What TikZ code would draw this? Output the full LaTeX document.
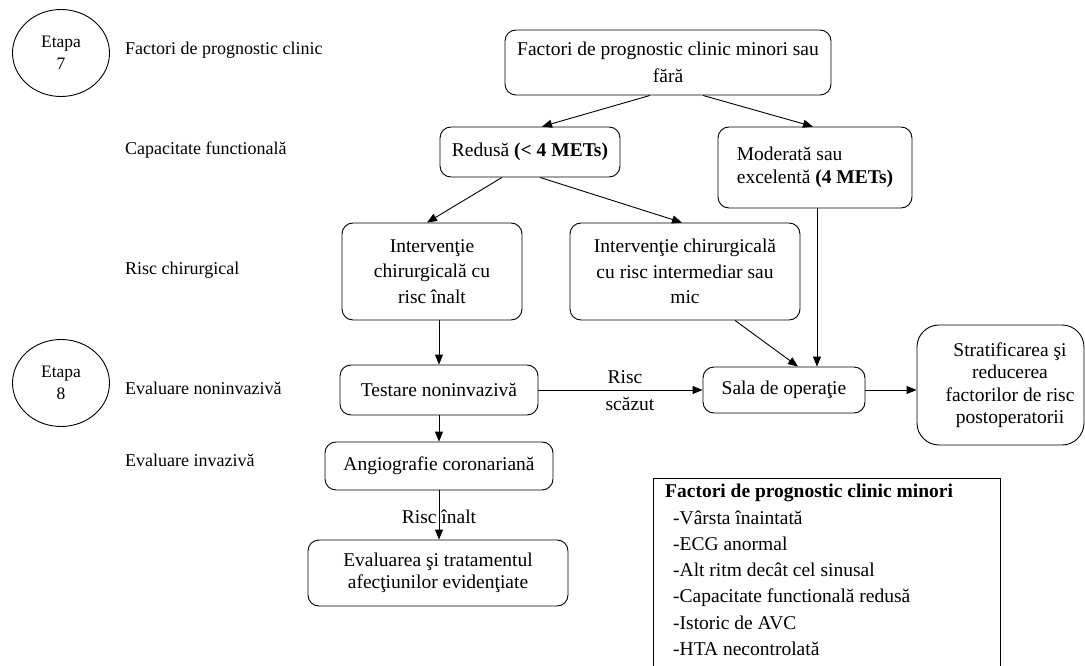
\documentclass[tikz,border=0pt]{standalone}
\usepackage{fontspec}
\setmainfont{Liberation Serif}
\usetikzlibrary{arrows.meta,shapes.geometric}
\begin{document}
\begin{tikzpicture}[x=1pt,y=-1pt,
  bx/.style={draw, rounded corners=11pt, align=center, inner sep=0pt, line width=0.9pt},
  arr/.style={-{Triangle[length=10pt,width=8pt]}, line width=0.9pt},
  lbl/.style={anchor=west, inner sep=0pt, font=\fontsize{18}{22}\selectfont},
  et/.style={draw, ellipse, line width=0.9pt, minimum width=97pt, minimum height=87pt, align=center, inner sep=0pt, font=\fontsize{17.5}{22}\selectfont},
  txt/.style={font=\fontsize{19.5}{25.5}\selectfont},
  txs/.style={font=\fontsize{19.5}{22.5}\selectfont}
]
\useasboundingbox (0,0) rectangle (1085,666);

% stage ellipses and row labels
\node[et] (e7) at (61,53) {Etapa\\7};
\node[et] (e8) at (61,383) {Etapa\\8};
\node[lbl] (l1) at (125,50) {Factori de prognostic clinic};
\node[lbl] (l2) at (125,150) {Capacitate functională};
\node[lbl] (l3) at (125,270) {Risc chirurgical};
\node[lbl] (l4) at (125,388) {Evaluare noninvazivă};
\node[lbl] (l5) at (125,460) {Evaluare invazivă};

% boxes
\node[bx, txt, font=\fontsize{19.5}{27}\selectfont, minimum width=326pt, minimum height=65pt] (top) at (668,62.5) {Factori de prognostic clinic minori sau\\fără};
\node[bx, txt, minimum width=180pt, minimum height=50pt] (red) at (530,152) {Redusă \textbf{(< 4 METs)}};
\node[bx, txs, align=left, minimum width=194pt, minimum height=81pt] (mod) at (815,167.5) {Moderată sau\\excelentă \textbf{(4 METs)}};
\node[bx, txt, minimum width=180pt, minimum height=97pt] (inth) at (432,271.5) {Intervenţie\\chirurgicală cu\\risc înalt};
\node[bx, txt, minimum width=230pt, minimum height=97pt] (intm) at (685,271.5) {Intervenţie chirurgicală\\cu risc intermediar sau\\mic};
\node[bx, txt, minimum width=198pt, minimum height=50pt] (test) at (439,390) {Testare noninvazivă};
\node[bx, txt, minimum width=228pt, minimum height=48pt] (ang) at (439,466) {Angiografie coronariană};
\node[bx, txs, minimum width=260pt, minimum height=66pt] (eval) at (438,573) {Evaluarea şi tratamentul\\afecţiunilor evidenţiate};
\node[bx, txt, minimum width=162pt, minimum height=46pt] (sala) at (784,390) {Sala de operaţie};
\node[bx, rounded corners=22pt, minimum width=167pt, minimum height=120pt] (strat) at (1000.5,385) {};
\node[txs, align=center, inner sep=0pt] (stratt) at (1010,385) {Stratificarea şi\\reducerea\\factorilor de risc\\postoperatorii};

% legend
\node[draw, line width=0.9pt, anchor=north west, minimum width=347pt, minimum height=210pt, inner sep=0pt] (leg) at (653,478) {};
\node[anchor=north west, align=left, inner sep=0pt, font=\fontsize{19.5}{26.3}\selectfont] (legt) at (665,484) {\textbf{Factori de prognostic clinic minori}\\
\hspace{8pt}-Vârsta înaintată\\
\hspace{8pt}-ECG anormal\\
\hspace{8pt}-Alt ritm decât cel sinusal\\
\hspace{8pt}-Capacitate functională redusă\\
\hspace{8pt}-Istoric de AVC\\
\hspace{8pt}-HTA necontrolată};

% connectors
\draw[arr] ([xshift=-18pt]top.south) -- ([xshift=12pt]red.north);
\draw[arr] ([xshift=35pt]top.south) -- ([xshift=-2pt]mod.north);
\draw[arr] ([xshift=-28pt]red.south) -- ([xshift=-5pt]inth.north);
\draw[arr] ([xshift=10pt]red.south) -- ([xshift=-3pt]intm.north);
\draw[arr] (inth.south -| test.north) -- (test.north);
\draw[arr] (test.south) -- (ang.north);
\node[txs, inner sep=0pt] (ri) at (439,517) {Risc înalt};
\draw[arr] (ang.south) -- (eval.north -| ang.south);
\draw[arr] (test.east) -- (sala.west);
\node[txs, inner sep=0pt] (rs1) at (625,377) {Risc};
\node[txs, inner sep=0pt] (rs2) at (630,404) {scăzut};
\draw[arr] ([xshift=50pt]intm.south) -- ([xshift=14pt]sala.north);
\draw[arr] ([xshift=2pt]mod.south) -- ([xshift=2pt]mod.south |- sala.north);
\draw[arr] (sala.east) -- (strat.west |- sala.east);
\end{tikzpicture}
\end{document}
